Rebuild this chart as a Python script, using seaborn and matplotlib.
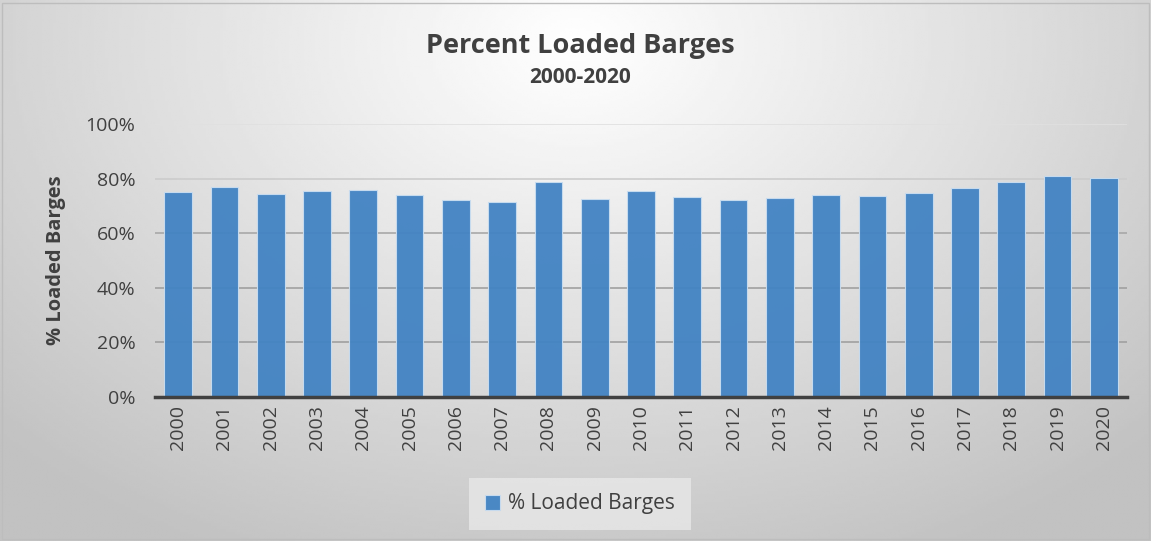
import numpy as np
import pandas as pd
import matplotlib.pyplot as plt
import matplotlib.ticker as mticker
from matplotlib.patches import Rectangle
import seaborn as sns

years = [str(y) for y in range(2000, 2021)]
loaded_pct = [75.0, 77.1, 74.3, 75.6, 75.9, 73.9, 72.0, 71.6, 78.9, 72.7,
              75.6, 73.4, 72.1, 72.8, 73.9, 73.7, 74.6, 76.6, 78.9, 80.9, 80.4]
series_name = "% Loaded Barges"

df = pd.DataFrame({"year": years, "pct": loaded_pct})

sns.set_theme(style="white")
plt.rcParams["font.family"] = ["Open Sans", "DejaVu Sans"]

fig = plt.figure(figsize=(11.51, 5.41), dpi=100)

# radial grey background like the spreadsheet chart area
bg = fig.add_axes([0, 0, 1, 1], zorder=-10)
gx, gy = np.meshgrid(np.linspace(0, 1, 400), np.linspace(0, 1, 200))
r = np.sqrt(((gx - 0.5) / 0.7) ** 2 + ((gy - 0.08) / 1.05) ** 2)
shade = 1.0 - 0.24 * np.clip(r, 0, 1)
bg.imshow(shade, cmap="gray", vmin=0, vmax=1, aspect="auto",
          extent=[0, 1, 1, 0], interpolation="bilinear")
bg.set_axis_off()
fig.patches.append(Rectangle((0.002, 0.004), 0.996, 0.99, transform=fig.transFigure,
                             fill=False, edgecolor="#bdbdbd", linewidth=1))

ax = fig.add_axes([155 / 1151, 1 - 397 / 541, (1127 - 155) / 1151, (397 - 124) / 541])
ax.set_facecolor("none")

sns.barplot(
    data=df,
    x="year",
    y="pct",
    color="#4283c3",
    saturation=1,
    alpha=0.95,
    width=0.6,
    edgecolor="#c9ddf0",
    linewidth=0.8,
    label=series_name,
    ax=ax,
)

ax.set_ylim(0, 100)
ax.set_yticks(range(0, 101, 20))
ax.yaxis.set_major_formatter(mticker.PercentFormatter(decimals=0))
ax.set_xlim(-0.5, len(years) - 0.5)

ax.set_axisbelow(True)
ax.yaxis.grid(True, linewidth=1.2)
for line, col in zip(ax.get_ygridlines(),
                     ["#a0a0a0", "#a0a0a0", "#a0a0a0", "#a8a8a8", "#cccccc", "#e0e0e0"]):
    line.set_color(col)

for side in ["top", "right", "left"]:
    ax.spines[side].set_visible(False)
ax.spines["bottom"].set_color("#404040")
ax.spines["bottom"].set_linewidth(2.5)

ax.tick_params(axis="x", labelrotation=90, labelsize=14, colors="#404040",
               length=0, pad=6)
ax.tick_params(axis="y", labelsize=14, colors="#404040", length=0, pad=14)

ax.set_xlabel("")
ax.set_ylabel(series_name, fontsize=14.5, fontweight="bold", color="#404040",
              labelpad=14)

fig.text(0.504, 0.915, "Percent Loaded Barges", ha="center", va="center",
         fontsize=19.5, fontweight="bold", color="#404040")
fig.text(0.504, 0.856, "2000-2020", ha="center", va="center",
         fontsize=15, fontweight="bold", color="#404040")

leg = ax.legend(loc="center", bbox_to_anchor=(580 / 1151, 1 - 504 / 541),
                bbox_transform=fig.transFigure, fontsize=15, frameon=True,
                fancybox=False, handlelength=0.7, handleheight=0.7,
                handletextpad=0.4, borderpad=0.75, borderaxespad=0,
                labelcolor="#404040")
leg.get_frame().set_facecolor("#e8e8e8")
leg.get_frame().set_edgecolor("none")
leg.get_frame().set_alpha(0.8)

plt.savefig("out.png", dpi=100)
plt.close()
